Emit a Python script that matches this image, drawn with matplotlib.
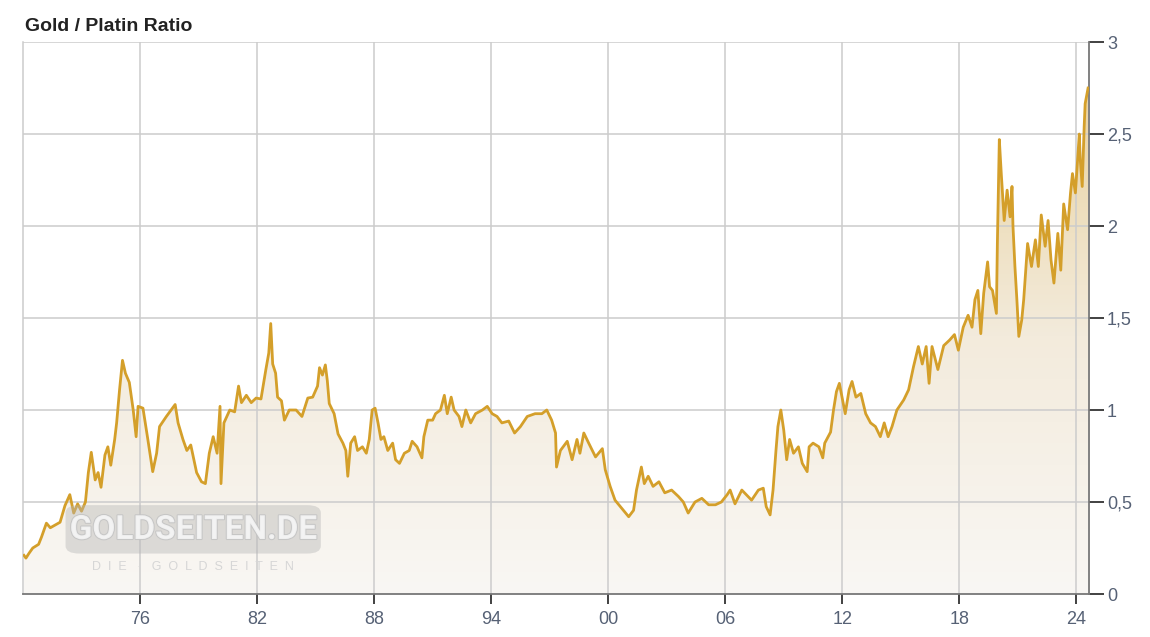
import numpy as np
import matplotlib
matplotlib.use("Agg")
import matplotlib.pyplot as plt
from matplotlib.patches import FancyBboxPatch
from matplotlib.colors import LinearSegmentedColormap
import matplotlib.patheffects as pe

plt.rcParams['font.family'] = ['Liberation Sans', 'DejaVu Sans']

# gold / platinum ratio (year, ratio)
years = [
    1970.05, 1970.15, 1970.3, 1970.5, 1970.8, 1970.95, 1971.2, 1971.4, 1971.65, 1971.9,
    1972.15, 1972.4, 1972.6, 1972.8, 1973.0, 1973.2, 1973.35, 1973.5, 1973.7, 1973.85,
    1974.0, 1974.2, 1974.35, 1974.5, 1974.7, 1974.8, 1974.95, 1975.1, 1975.25, 1975.45,
    1975.65, 1975.8, 1975.9, 1976.15, 1976.4, 1976.65, 1976.85, 1977.0, 1977.35, 1977.8,
    1977.95, 1978.2, 1978.4, 1978.6, 1978.9, 1979.15, 1979.35, 1979.55, 1979.75, 1979.95,
    1980.1, 1980.15, 1980.3, 1980.6, 1980.85, 1981.05, 1981.2, 1981.45, 1981.7, 1981.95,
    1982.2, 1982.45, 1982.6, 1982.7, 1982.8, 1982.95, 1983.05, 1983.25, 1983.4, 1983.65,
    1984.0, 1984.3, 1984.6, 1984.85, 1985.1, 1985.2, 1985.35, 1985.5, 1985.6, 1985.7,
    1985.95, 1986.15, 1986.4, 1986.55, 1986.65, 1986.8, 1987.0, 1987.15, 1987.4, 1987.6,
    1987.75, 1987.9, 1988.05, 1988.2, 1988.35, 1988.5, 1988.7, 1988.95, 1989.1, 1989.3,
    1989.55, 1989.8, 1989.95, 1990.2, 1990.45, 1990.55, 1990.75, 1991.0, 1991.15, 1991.4,
    1991.6, 1991.75, 1991.95, 1992.1, 1992.35, 1992.5, 1992.7, 1992.95, 1993.2, 1993.55,
    1993.8, 1994.05, 1994.3, 1994.55, 1994.9, 1995.2, 1995.5, 1995.85, 1996.25, 1996.6,
    1996.85, 1997.1, 1997.3, 1997.35, 1997.55, 1997.9, 1998.15, 1998.4, 1998.55, 1998.75,
    1999.0, 1999.35, 1999.7, 1999.85, 2000.1, 2000.35, 2000.7, 2001.05, 2001.3, 2001.45,
    2001.7, 2001.85, 2002.05, 2002.3, 2002.6, 2002.9, 2003.25, 2003.6, 2003.85, 2004.1,
    2004.45, 2004.8, 2005.15, 2005.5, 2005.8, 2006.1, 2006.25, 2006.5, 2006.85, 2007.35,
    2007.7, 2007.95, 2008.1, 2008.3, 2008.45, 2008.6, 2008.7, 2008.85, 2009.0, 2009.15,
    2009.3, 2009.5, 2009.75, 2009.95, 2010.2, 2010.3, 2010.5, 2010.8, 2011.0, 2011.1,
    2011.4, 2011.55, 2011.7, 2011.85, 2012.15, 2012.35, 2012.5, 2012.7, 2012.95, 2013.2,
    2013.45, 2013.7, 2013.95, 2014.15, 2014.35, 2014.55, 2014.8, 2015.15, 2015.4, 2015.65,
    2015.9, 2016.1, 2016.3, 2016.45, 2016.6, 2016.9, 2017.2, 2017.5, 2017.75, 2017.95,
    2018.2, 2018.45, 2018.65, 2018.8, 2018.95, 2019.1, 2019.25, 2019.45, 2019.55, 2019.7,
    2019.9, 2019.95, 2020.05, 2020.15, 2020.3, 2020.45, 2020.6, 2020.7, 2020.75, 2020.85,
    2020.95, 2021.05, 2021.2, 2021.3, 2021.5, 2021.7, 2021.9, 2022.05, 2022.2, 2022.4,
    2022.55, 2022.7, 2022.85, 2023.05, 2023.2, 2023.35, 2023.55, 2023.7, 2023.8, 2023.95,
    2024.15, 2024.2, 2024.3, 2024.4, 2024.45, 2024.6,
]
ratio = [
    0.21, 0.195, 0.22, 0.25, 0.27, 0.31, 0.385, 0.36, 0.375, 0.39,
    0.48, 0.54, 0.44, 0.49, 0.45, 0.50, 0.66, 0.77, 0.62, 0.66,
    0.58, 0.755, 0.80, 0.70, 0.84, 0.93, 1.11, 1.27, 1.20, 1.15,
    1.00, 0.855, 1.02, 1.01, 0.84, 0.665, 0.765, 0.91, 0.965, 1.03,
    0.93, 0.84, 0.78, 0.81, 0.66, 0.61, 0.60, 0.765, 0.855, 0.765,
    1.02, 0.60, 0.93, 1.00, 0.99, 1.13, 1.04, 1.08, 1.04, 1.065,
    1.06, 1.22, 1.31, 1.47, 1.25, 1.20, 1.07, 1.05, 0.945, 1.00,
    1.00, 0.965, 1.065, 1.07, 1.13, 1.23, 1.19, 1.245, 1.16, 1.035,
    0.98, 0.87, 0.82, 0.78, 0.64, 0.82, 0.855, 0.78, 0.80, 0.765,
    0.84, 1.00, 1.01, 0.93, 0.84, 0.855, 0.78, 0.82, 0.73, 0.71,
    0.765, 0.78, 0.83, 0.80, 0.74, 0.855, 0.945, 0.945, 0.98, 1.00,
    1.08, 0.98, 1.07, 1.00, 0.965, 0.91, 1.00, 0.93, 0.98, 1.00,
    1.02, 0.98, 0.965, 0.93, 0.94, 0.875, 0.91, 0.965, 0.98, 0.98,
    1.00, 0.945, 0.875, 0.69, 0.78, 0.83, 0.73, 0.84, 0.765, 0.875,
    0.82, 0.745, 0.79, 0.675, 0.585, 0.51, 0.465, 0.42, 0.455, 0.565,
    0.69, 0.60, 0.64, 0.585, 0.61, 0.55, 0.565, 0.53, 0.50, 0.44,
    0.50, 0.52, 0.485, 0.485, 0.50, 0.54, 0.565, 0.49, 0.565, 0.51,
    0.565, 0.575, 0.475, 0.43, 0.565, 0.78, 0.91, 1.00, 0.89, 0.73,
    0.84, 0.765, 0.80, 0.71, 0.665, 0.80, 0.82, 0.80, 0.74, 0.82,
    0.88, 1.00, 1.10, 1.145, 0.98, 1.11, 1.155, 1.07, 1.09, 0.98,
    0.93, 0.91, 0.855, 0.93, 0.855, 0.91, 1.00, 1.055, 1.11, 1.235,
    1.345, 1.25, 1.345, 1.145, 1.345, 1.22, 1.35, 1.38, 1.41, 1.325,
    1.45, 1.515, 1.45, 1.60, 1.65, 1.415, 1.635, 1.805, 1.67, 1.65,
    1.525, 1.905, 2.47, 2.285, 2.03, 2.195, 2.05, 2.215, 2.00, 1.78,
    1.60, 1.40, 1.49, 1.60, 1.905, 1.78, 1.925, 1.78, 2.06, 1.89,
    2.03, 1.815, 1.69, 1.96, 1.76, 2.12, 1.98, 2.18, 2.285, 2.18,
    2.50, 2.36, 2.215, 2.54, 2.665, 2.75,
]

xtick_years = [1976, 1982, 1988, 1994, 2000, 2006, 2012, 2018, 2024]
xtick_labels = ['76', '82', '88', '94', '00', '06', '12', '18', '24']
ytick_vals = [0, 0.5, 1, 1.5, 2, 2.5, 3]
ytick_labels = ['0', '0,5', '1', '1,5', '2', '2,5', '3']

line_color = '#d49f2a'
grid_color = '#cccccc'
label_color = '#566175'

fig = plt.figure(figsize=(11.5, 6.37), dpi=100)
ax = fig.add_axes([0.02, 0.0675, 0.927, 0.8665])
x0, x1 = 1970.0, 2024.65
ax.set_xlim(x0, x1)
ax.set_ylim(0, 3)

# gradient fill under the line
cmap = LinearSegmentedColormap.from_list('fillgrad', ['#f9f7f4', '#f3ebdc', '#e9d29e'])
grad = np.linspace(0, 1, 256).reshape(-1, 1)
img = ax.imshow(grad, extent=[x0, x1, 0, 2.8], origin='lower', aspect='auto',
                cmap=cmap, zorder=1)
poly = ax.fill_between(years, ratio, 0, color='none', zorder=1)
img.set_clip_path(poly.get_paths()[0], transform=ax.transData)

# grid
for xv in xtick_years:
    ax.axvline(xv, color=grid_color, lw=1.1, zorder=2)
for yv in ytick_vals[1:]:
    ax.axhline(yv, color=grid_color, lw=1.1, zorder=2)

ax.plot(years, ratio, color=line_color, lw=2.0, zorder=4, solid_joinstyle='round')

# spines / ticks
ax.spines['left'].set_color(grid_color)
ax.spines['left'].set_linewidth(1.1)
ax.spines['top'].set_visible(False)
ax.spines['bottom'].set_color('#777777')
ax.spines['right'].set_color('#777777')
ax.spines['bottom'].set_linewidth(1.3)
ax.spines['right'].set_linewidth(1.3)

ax.set_xticks(xtick_years)
ax.set_xticklabels(xtick_labels)
ax.yaxis.tick_right()
ax.set_yticks(ytick_vals)
ax.set_yticklabels(ytick_labels)
ax.tick_params(axis='x', direction='out', length=7, width=1.3, color='#333333',
               labelsize=13, labelcolor=label_color, pad=5)
ax.tick_params(axis='y', direction='out', length=11, width=1.3, color='#333333',
               labelsize=13, labelcolor=label_color, pad=2)

# watermark
wm = FancyBboxPatch((0.062, 0.136), 0.212, 0.066, boxstyle='round,pad=0.005,rounding_size=0.012',
                    transform=fig.transFigure, facecolor='#b5b5b5', edgecolor='none',
                    alpha=0.42, zorder=3)
fig.patches.append(wm)
fig.text(0.168, 0.168, 'GOLDSEITEN.DE', ha='center', va='center', fontsize=24,
         family='Roboto', fontweight='bold', fontstretch='condensed', color='#f4f4f4',
         alpha=0.9, zorder=5,
         path_effects=[pe.withStroke(linewidth=1.5, foreground='#c4c4c4')])
fig.text(0.168, 0.11, 'D  I  E   ·   G  O  L  D  S  E  I  T  E  N', ha='center', va='center',
         fontsize=9, color='#d6d6d6', zorder=5)

fig.text(0.022, 0.958, 'Gold / Platin Ratio', ha='left', va='center', fontsize=14,
         fontweight='bold', color='#222222')

fig.savefig('out.png', dpi=100, facecolor='white')
